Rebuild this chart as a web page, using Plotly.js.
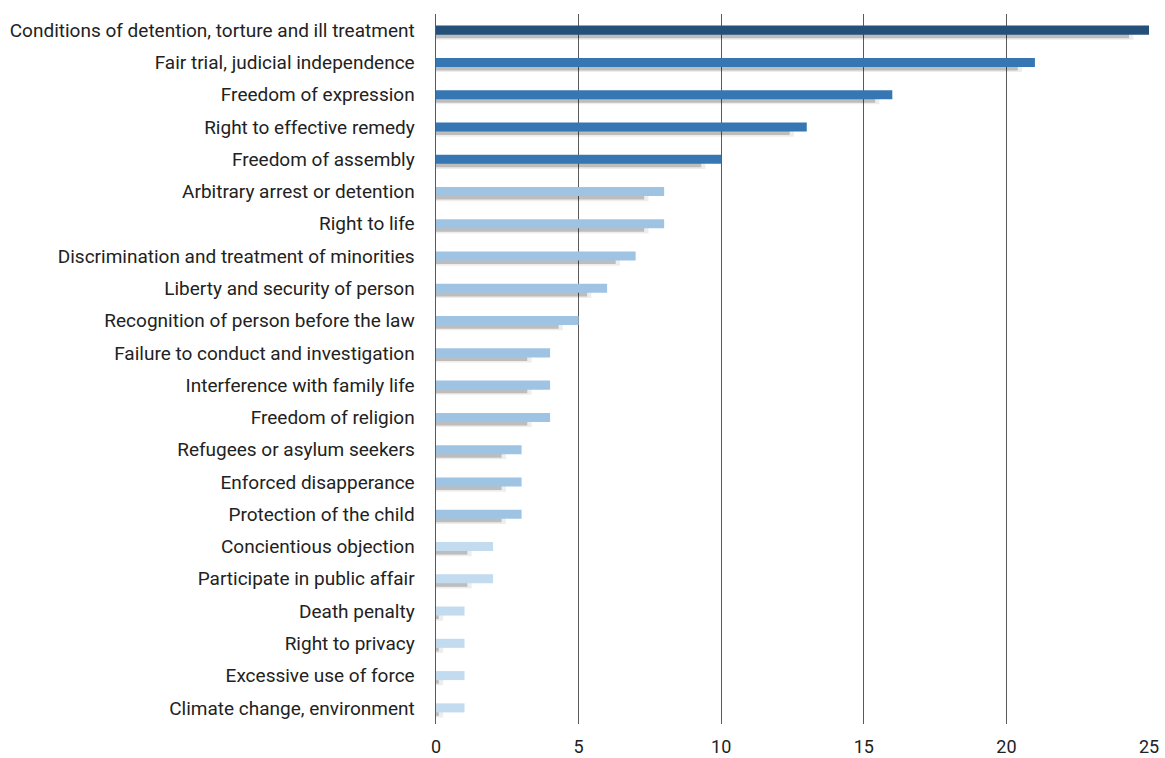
<!DOCTYPE html>
<html>
<head>
<meta charset="utf-8">
<script src="https://cdn.plot.ly/plotly-3.0.1.min.js"></script>
<style>html,body{margin:0;padding:0;background:#fff;}#chart{width:1165px;height:758px;}</style>
</head>
<body>
<div id="chart"></div>
<script>
const categories = [
  "Conditions of detention, torture and ill treatment",
  "Fair trial, judicial independence",
  "Freedom of expression",
  "Right to effective remedy",
  "Freedom of assembly",
  "Arbitrary arrest or detention",
  "Right to life",
  "Discrimination and treatment of minorities",
  "Liberty and security of person",
  "Recognition of person before the law",
  "Failure to conduct and investigation",
  "Interference with family life",
  "Freedom of religion",
  "Refugees or asylum seekers",
  "Enforced disapperance",
  "Protection of the child",
  "Concientious objection",
  "Participate in public affair",
  "Death penalty",
  "Right to privacy",
  "Excessive use of force",
  "Climate change, environment"
];
const values = [25, 21, 16, 13, 10, 8, 8, 7, 6, 5, 4, 4, 4, 3, 3, 3, 2, 2, 1, 1, 1, 1];
const shadowValues = [24.3, 20.4, 15.4, 12.4, 9.3, 7.3, 7.3, 6.3, 5.3, 4.3, 3.2, 3.2, 3.2, 2.3, 2.3, 2.3, 1.1, 1.1, 0.1, 0.1, 0.1, 0.1];
const barColors = values.map((v, i) => i === 0 ? "#245079" : (v >= 10 ? "#3677b3" : (v >= 3 ? "#9fc3e2" : "#c3dbef")));
const xTicks = [0, 5, 10, 15, 20, 25];

const traces = [
  {type: "bar", orientation: "h", y: categories, x: shadowValues.map(v => v + 0.15), width: 0.34, offset: -0.04,
   marker: {color: "rgba(0,0,0,0.07)", line: {width: 0}}, hoverinfo: "skip", showlegend: false},
  {type: "bar", orientation: "h", y: categories, x: shadowValues, width: 0.26, offset: -0.01,
   marker: {color: "rgba(0,0,0,0.2)", line: {width: 0}}, hoverinfo: "skip", showlegend: false},
  {type: "bar", orientation: "h", y: categories, x: values, width: 0.28, offset: -0.14,
   marker: {color: barColors, line: {width: 0}}, showlegend: false}
];

const layout = {
  width: 1165, height: 758,
  margin: {l: 436, r: 16, t: 14, b: 34},
  paper_bgcolor: "#fff", plot_bgcolor: "#fff",
  barmode: "overlay",
  font: {family: "Roboto, sans-serif", size: 18, color: "#222"},
  xaxis: {range: [0, 25], tickvals: xTicks, ticktext: xTicks.map(String),
          showgrid: true, gridcolor: "#5a5a5a", gridwidth: 1, zeroline: false,
          showline: false, ticks: "", ticklabelstandoff: 10, tickfont: {size: 18, color: "#222"}},
  yaxis: {type: "category", autorange: "reversed", showgrid: false, zeroline: false,
          showline: true, linecolor: "#5a5a5a", linewidth: 1.5, ticks: "",
          ticklabelstandoff: 16, tickfont: {size: 19, color: "#222"}}
};
Plotly.newPlot("chart", traces, layout, {displayModeBar: false, staticPlot: true});
</script>
</body>
</html>
